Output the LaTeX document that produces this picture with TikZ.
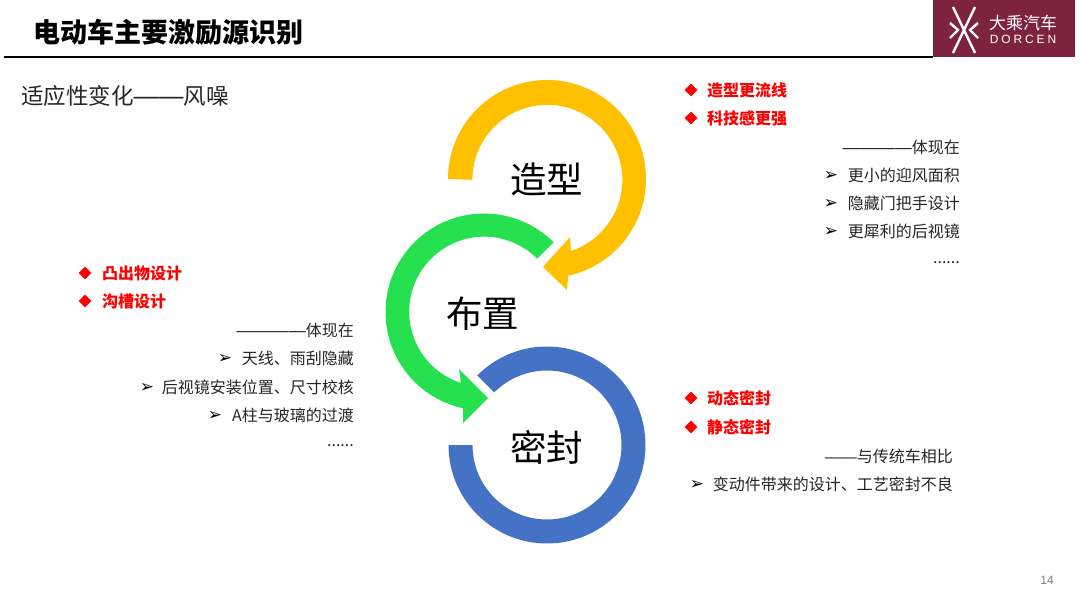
\documentclass[tikz,border=0pt]{standalone}
\usepackage{fontspec}
\setmainfont{Noto Sans CJK SC}
\newfontfamily\symfont{DejaVu Sans}
\newfontfamily\latinfont{Liberation Sans}
\newcommand{\dashrun}[2]{{\latinfont\fontsize{#1}{#1}\selectfont #2}}
\usetikzlibrary{shapes.geometric}
\definecolor{Ring_yellow}{HTML}{FFC000}
\definecolor{Ring_green}{HTML}{25E04F}
\definecolor{Ring_blue}{HTML}{4472C4}
\definecolor{Logo_red}{HTML}{7D2340}
\definecolor{Body_gray}{HTML}{262626}
\tikzset{
  ring label/.style={font=\fontsize{36.5}{40}\selectfont, text=black, inner sep=0pt},
  red item/.style={font=\fontsize{16}{18}\selectfont\bfseries, text=red, anchor=west, inner sep=0pt},
  red mark/.style={diamond, fill=red, minimum size=13pt, inner sep=0pt},
  body item/.style={font=\fontsize{16}{18}\selectfont, text=Body_gray, anchor=east, inner sep=0pt},
  arrow mark/.style={font=\symfont\fontsize{17}{19}\selectfont, text=black, inner sep=0pt}
}
\begin{document}
\begin{tikzpicture}[x=1pt, y=1pt]
            \useasboundingbox (0,-608) rectangle (1080,0);
            \fill[white] (0,-608) rectangle (1080,0);
            % header
            \fill[Logo_red] (933,-57) rectangle (1075,0);
            \draw[black, line width=1.4pt] (4,-57) -- (933,-57);
            \node[anchor=west, inner sep=0pt, font=\fontsize{27}{30}\selectfont\bfseries] (title) at (33,-32) {电动车主要激励源识别};
            \begin{scope}[white, line width=2.4pt]
                \draw (953,-7) -- (975,-53);
                \draw (975,-7) -- (953,-53);
                \draw (950,-23) -- (958,-30) -- (950,-38);
                \draw (978,-23) -- (970,-30) -- (978,-38);
            \end{scope}
            \node[inner sep=0pt, text=white, font=\fontsize{17}{18}\selectfont] (logocn) at (1023,-23) {大乘汽车};
            \node[inner sep=0pt, text=white, font=\latinfont\fontsize{12}{13}\selectfont\addfontfeature{LetterSpace=24}] (logoen) at (1023,-39) {DORCEN};
            \node[anchor=west, inner sep=0pt, font=\fontsize{22.5}{26}\selectfont, text=Body_gray] (topic) at (21,-96) {适应性变化\dashrun{25}{——}风噪};
            % rings
            \fill[Ring_yellow] (547,-179) +(180:99) arc[start angle=180, end angle=-77.6, radius=99] -- (567,-290) -- (543,-267) -- (570,-237) -- (571,-251) arc[start angle=-71.6, end angle=180, radius=75] -- cycle;
            \fill[Ring_green] (484,-312) +(45:98.5) arc[start angle=45, end angle=257.7, radius=98.5] -- (463,-423) -- (488,-398) -- (459,-369) -- (461,-383) arc[start angle=252, end angle=45, radius=75] -- cycle;
            \fill[Ring_blue] (547,-445) +(135:98.5) arc[start angle=135, end angle=-180, radius=98.5] -- ++(24,0) arc[start angle=-180, end angle=135, radius=74.5] -- cycle;
            \node[ring label] (shape) at (546.5,-180) {造型};
            \node[ring label] (layout) at (482.5,-314) {布置};
            \node[ring label] (seal) at (546.5,-447) {密封};
            % top right
            \node[red mark] (m1) at (691,-90) {};
            \node[red item] (shape1) at (707,-90) {造型更流线};
            \node[red mark] (m2) at (691,-118) {};
            \node[red item] (shape2) at (707,-118) {科技感更强};
            \node[body item] (shape3) at (960,-147) {\dashrun{17.3}{————}体现在};
            \node[body item] (shape4) at (960,-175) {更小的迎风面积};
            \node[arrow mark] (a4) at (831,-176) {➢};
            \node[body item] (shape5) at (960,-203) {隐藏门把手设计};
            \node[arrow mark] (a5) at (831,-204) {➢};
            \node[body item] (shape6) at (960,-231) {更犀利的后视镜};
            \node[arrow mark] (a6) at (831,-232) {➢};
            \node[body item] (shape7) at (960,-263) {......};
            % left
            \node[red mark] (m3) at (85,-273) {};
            \node[red item] (layout1) at (102,-273) {凸出物设计};
            \node[red mark] (m4) at (85,-301) {};
            \node[red item] (layout2) at (102,-301) {沟槽设计};
            \node[body item] (layout3) at (354,-330) {\dashrun{17.3}{————}体现在};
            \node[body item] (layout4) at (354,-358) {天线、雨刮隐藏};
            \node[arrow mark] (a7) at (225,-359) {➢};
            \node[body item] (layout5) at (354,-387) {后视镜安装位置、尺寸校核};
            \node[arrow mark] (a8) at (147,-388) {➢};
            \node[body item] (layout6) at (354,-415) {A柱与玻璃的过渡};
            \node[arrow mark] (a9) at (215,-416) {➢};
            \node[body item] (layout7) at (354,-446) {......};
            % bottom right
            \node[red mark] (m5) at (691,-398) {};
            \node[red item] (seal1) at (707,-398) {动态密封};
            \node[red mark] (m6) at (691,-427) {};
            \node[red item] (seal2) at (707,-427) {静态密封};
            \node[body item] (seal3) at (953,-456) {\dashrun{16}{——}与传统车相比};
            \node[body item] (seal4) at (953,-484) {变动件带来的设计、工艺密封不良};
            \node[arrow mark] (a10) at (697,-485) {➢};
            \node[inner sep=0pt, text=gray, font=\latinfont\fontsize{12}{14}\selectfont] (page) at (1047,-580) {14};
        \end{tikzpicture}
\end{document}
